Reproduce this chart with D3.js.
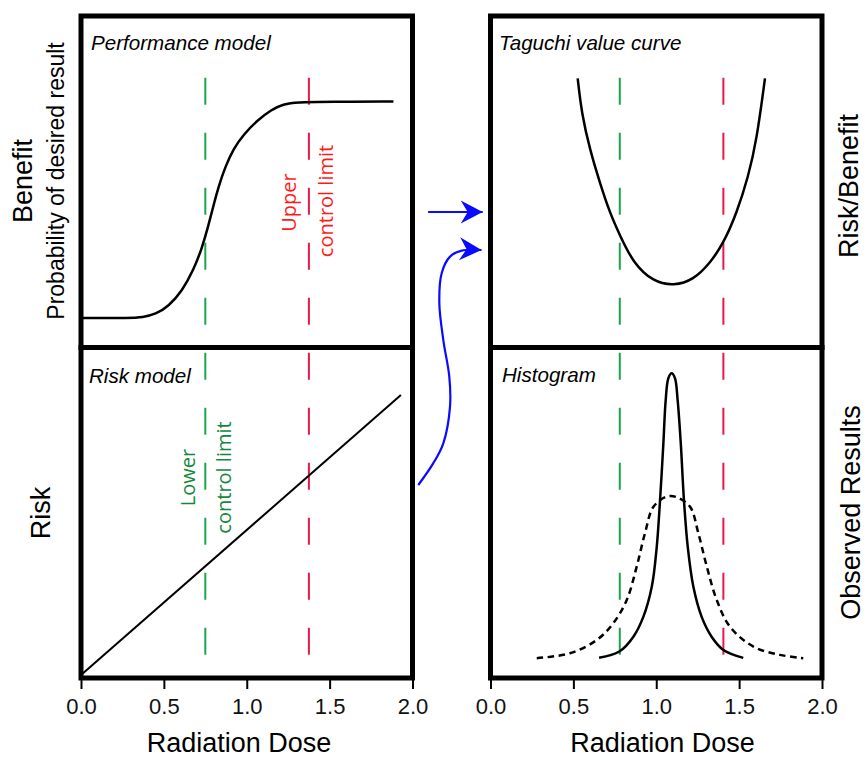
<!DOCTYPE html>
<html>
<head>
<meta charset="utf-8">
<script src="https://cdn.jsdelivr.net/npm/d3@7"></script>
<style>
  body { margin: 0; background: #fff; }
  svg { display: block; }
</style>
</head>
<body>
<svg id="chart" width="865" height="759"></svg>
<script>
// ---- data ----
const doseTicks = [0, 0.5, 1.0, 1.5, 2.0]

// performance model (top left), value = probability of desired result
const performanceDose  = [0, 0.30, 0.37, 0.45, 0.53, 0.61, 0.68, 0.73, 0.77, 0.80, 0.83, 0.87, 0.92, 0.98, 1.06, 1.15, 1.22, 1.30, 1.50, 1.885]
const performanceValue = [0.089, 0.089, 0.091, 0.100, 0.125, 0.170, 0.235, 0.300, 0.370, 0.430, 0.485, 0.545, 0.600, 0.642, 0.684, 0.718, 0.734, 0.740, 0.741, 0.742]

// risk model (bottom left), straight line
const riskDose  = [0, 1.93]
const riskValue = [0.009, 0.856]

// taguchi value curve (top right)
const taguchiDose  = [0.526, 0.550, 0.600, 0.661, 0.721, 0.780, 0.862, 0.982, 1.107, 1.224, 1.324, 1.405, 1.485, 1.555, 1.606, 1.656]
const taguchiValue = [0.812, 0.706, 0.596, 0.495, 0.405, 0.339, 0.254, 0.198, 0.186, 0.204, 0.254, 0.314, 0.405, 0.515, 0.626, 0.812]

// histogram (bottom right): narrow solid and wide dotted distributions
const narrowDose  = [0.655, 0.777, 0.862, 0.922, 0.973, 1.003, 1.023, 1.043, 1.057, 1.073, 1.093, 1.113, 1.129, 1.148, 1.167, 1.190, 1.224, 1.274, 1.334, 1.405, 1.525]
const narrowValue = [0.061, 0.080, 0.125, 0.185, 0.276, 0.397, 0.539, 0.710, 0.841, 0.907, 0.922, 0.907, 0.841, 0.710, 0.539, 0.397, 0.276, 0.185, 0.125, 0.085, 0.061]
const wideDose  = [0.279, 0.480, 0.641, 0.741, 0.822, 0.882, 0.932, 0.983, 1.064, 1.124, 1.204, 1.254, 1.305, 1.365, 1.445, 1.586, 1.747, 1.887]
const wideValue = [0.060, 0.075, 0.115, 0.166, 0.236, 0.337, 0.438, 0.518, 0.549, 0.547, 0.518, 0.438, 0.337, 0.236, 0.155, 0.095, 0.070, 0.060]

// control limits (dose)
const leftLimits  = { lower: 0.75, upper: 1.375 }
const rightLimits = { lower: 0.78, upper: 1.405 }

// ---- layout ----
const svg = d3.select('#chart')
const FONT = '"Liberation Sans", Arial, Helvetica, sans-serif'
const LIMIT_FONT = '"Open Sans", "Noto Sans", sans-serif'
const GREEN = '#1aa64b', RED = '#e8194b'
const GREEN_TEXT = '#14883a', RED_TEXT = '#ff1a1a'
const BLUE = '#0a0aff'

const xLeft  = d3.scaleLinear().domain([0, 2]).range([81, 412.5])
const xRight = d3.scaleLinear().domain([0, 2]).range([490.5, 822])
const yTop    = d3.scaleLinear().domain([0, 1]).range([347.5, 16])
const yBottom = d3.scaleLinear().domain([0, 1]).range([678, 347.5])
// column-wide scale (0..2 spanning both stacked panels) and the gap between columns
const yCol = d3.scaleLinear().domain([0, 2]).range([678, 16])
const xGap = d3.scaleLinear().domain([0, 1]).range([412.5, 490.5])

const curve = (x, y, xs, ys, c) => d3.line()
  .x((d, i) => x(xs[i]))
  .y((d, i) => y(ys[i]))
  .curve(c || d3.curveMonotoneX)(xs)

const g = svg.append('g')

// limit lines (span both panels of a column)
function limitLine(x, dose, color) {
  g.append('line')
    .attr('x1', x(dose)).attr('x2', x(dose))
    .attr('y1', yCol(0.07)).attr('y2', yCol(1 + 0.815))
    .attr('stroke', color)
    .attr('stroke-width', 2)
    .attr('stroke-dasharray', '27,28')
}
limitLine(xLeft, leftLimits.lower, GREEN)
limitLine(xLeft, leftLimits.upper, RED)
limitLine(xRight, rightLimits.lower, GREEN)
limitLine(xRight, rightLimits.upper, RED)

// curves
g.append('path')
  .attr('d', curve(xLeft, yTop, performanceDose, performanceValue, d3.curveBasis))
  .attr('fill', 'none').attr('stroke', '#000').attr('stroke-width', 2.5)

g.append('path')
  .attr('d', curve(xLeft, yBottom, riskDose, riskValue, d3.curveLinear))
  .attr('fill', 'none').attr('stroke', '#000').attr('stroke-width', 2)

g.append('path')
  .attr('d', curve(xRight, yTop, taguchiDose, taguchiValue, d3.curveBasis))
  .attr('fill', 'none').attr('stroke', '#000').attr('stroke-width', 2.5)

g.append('path')
  .attr('d', curve(xRight, yBottom, wideDose, wideValue, d3.curveCatmullRom))
  .attr('fill', 'none').attr('stroke', '#000').attr('stroke-width', 2.5)
  .attr('stroke-dasharray', '6.5,4.5')

g.append('path')
  .attr('d', curve(xRight, yBottom, narrowDose, narrowValue, d3.curveCatmullRom))
  .attr('fill', 'none').attr('stroke', '#000').attr('stroke-width', 2.5)

// panel boxes
;[xLeft, xRight].forEach(x => {
  ;[yTop, yBottom].forEach(y => {
    g.append('rect')
      .attr('x', x.range()[0]).attr('y', y.range()[1])
      .attr('width', x.range()[1] - x.range()[0])
      .attr('height', y.range()[0] - y.range()[1])
      .attr('fill', 'none').attr('stroke', '#000').attr('stroke-width', 5)
  })
})

// x axes
;[xLeft, xRight].forEach(x => {
  const ax = g.append('g')
    .attr('transform', 'translate(0,' + yBottom.range()[0] + ')')
    .call(d3.axisBottom(x).tickValues(doseTicks).tickFormat(d3.format('.1f')).tickSize(11).tickPadding(9))
  ax.select('.domain').remove()
  ax.selectAll('.tick line').attr('stroke', '#000').attr('stroke-width', 2)
  ax.selectAll('.tick text')
    .style('font-family', FONT).style('font-size', '22px').attr('fill', '#111')
})

// text helpers
function label(txt, x, y, size, opts) {
  opts = opts || {}
  const t = g.append('text')
    .attr('transform', 'translate(' + x + ',' + y + ')' + (opts.rotate ? ' rotate(-90)' : ''))
    .attr('text-anchor', opts.anchor || 'middle')
    .style('font-family', opts.family || FONT)
    .style('font-size', size + 'px')
    .style('font-style', opts.italic ? 'italic' : 'normal')
    .attr('fill', opts.color || '#000')
    .text(txt)
  return t
}

// axis titles
label('Radiation Dose', 239, 752, 27)
label('Radiation Dose', 662.5, 752, 27)
label('Benefit', 31.5, 181, 27, { rotate: true })
label('Probability of desired result', 63.5, 181, 23, { rotate: true })
label('Risk', 50, 513, 27, { rotate: true })
label('Risk/Benefit', 858, 186, 27, { rotate: true })
label('Observed Results', 860, 512.5, 27, { rotate: true })

// panel titles
label('Performance model', 91, 50, 20.6, { italic: true, anchor: 'start' })
label('Risk model', 89, 383, 20.6, { italic: true, anchor: 'start' })
label('Taguchi value curve', 499, 50, 20.6, { italic: true, anchor: 'start' })
label('Histogram', 502, 382, 20.6, { italic: true, anchor: 'start' })

// control limit labels
label('Upper', xLeft(leftLimits.upper) - 12.5, 202.5, 20, { rotate: true, family: LIMIT_FONT, color: RED_TEXT })
label('control limit', xLeft(leftLimits.upper) + 24.5, 201, 20, { rotate: true, family: LIMIT_FONT, color: RED_TEXT })
label('Lower', xLeft(leftLimits.lower) - 10, 477.5, 20, { rotate: true, family: LIMIT_FONT, color: GREEN_TEXT })
label('control limit', xLeft(leftLimits.lower) + 26, 477.5, 20, { rotate: true, family: LIMIT_FONT, color: GREEN_TEXT })

// arrows between the columns
svg.append('defs').append('marker')
  .attr('id', 'head')
  .attr('markerUnits', 'userSpaceOnUse')
  .attr('viewBox', '-23 -12 24 24')
  .attr('refX', 0).attr('refY', 0)
  .attr('markerWidth', 24).attr('markerHeight', 24)
  .attr('orient', 'auto')
  .append('path')
  .attr('d', 'M0,0 L-22,-11.5 L-15,0 L-22,11.5 Z')
  .attr('fill', BLUE)

g.append('line')
  .attr('x1', xGap(0.2)).attr('x2', xGap(0.9))
  .attr('y1', yCol(1.408)).attr('y2', yCol(1.408))
  .attr('stroke', BLUE).attr('stroke-width', 2)
  .attr('marker-end', 'url(#head)')

const arrowGapX = [0.074, 0.267, 0.395, 0.481, 0.472, 0.395, 0.344, 0.374, 0.481, 0.631, 0.885]
const arrowColY = [0.583, 0.649, 0.709, 0.820, 0.910, 1.021, 1.132, 1.223, 1.273, 1.291, 1.293]
g.append('path')
  .attr('d', curve(xGap, yCol, arrowGapX, arrowColY, d3.curveCatmullRom))
  .attr('fill', 'none').attr('stroke', BLUE).attr('stroke-width', 2.2)
  .attr('marker-end', 'url(#head)')
</script>
</body>
</html>
